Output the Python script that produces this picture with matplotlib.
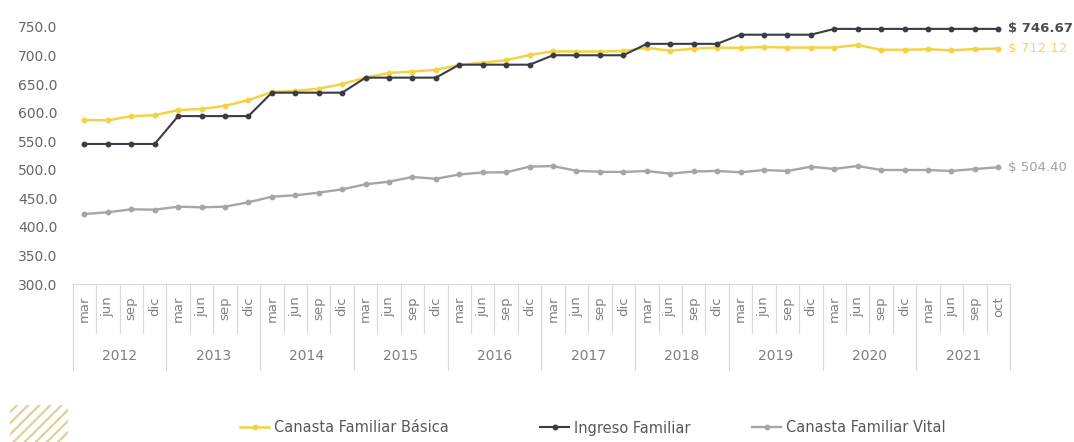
import numpy as np
import matplotlib
matplotlib.use('Agg')
import matplotlib.pyplot as plt
import matplotlib.transforms as mtransforms
from matplotlib.lines import Line2D
from matplotlib.patches import Rectangle

plt.rcParams['font.family'] = ['DejaVu Sans']
plt.rcParams['hatch.linewidth'] = 1.6

years = ['2012', '2013', '2014', '2015', '2016', '2017', '2018', '2019', '2020', '2021']
months = ['mar', 'jun', 'sep', 'dic'] * 9 + ['mar', 'jun', 'sep', 'oct']

canasta_basica = [587.0, 586.5, 594.0, 595.5, 604.5, 606.5, 612.0, 622.0,
                  636.0, 638.0, 642.0, 650.0, 661.5, 669.5, 672.0, 675.0,
                  683.5, 687.5, 692.0, 701.0, 707.5, 707.0, 707.0, 708.0,
                  713.5, 708.5, 712.0, 714.0, 713.5, 715.0, 714.0, 714.0,
                  714.0, 718.5, 710.0, 710.0, 711.0, 709.0, 711.5, 712.12]
ingreso_familiar = [545.2, 545.2, 545.2, 545.2, 594.0, 594.0, 594.0, 594.0,
                    635.0, 635.0, 635.0, 635.0, 661.3, 661.3, 661.3, 661.3,
                    684.0, 684.0, 684.0, 684.0, 700.5, 700.5, 700.5, 700.5,
                    720.5, 720.5, 720.5, 720.5, 736.5, 736.5, 736.5, 736.5,
                    746.67, 746.67, 746.67, 746.67, 746.67, 746.67, 746.67, 746.67]
canasta_vital = [422.6, 425.6, 430.8, 430.1, 435.4, 434.3, 435.4, 443.1,
                 452.9, 455.3, 459.9, 465.8, 474.6, 479.2, 487.4, 484.2,
                 491.8, 495.3, 495.6, 505.5, 506.5, 498.2, 496.5, 496.1,
                 497.9, 493.2, 497.0, 497.9, 495.6, 499.6, 497.9, 505.4,
                 501.4, 506.7, 499.6, 499.6, 499.6, 497.9, 501.4, 504.40]

W, H = 1074, 442
fig = plt.figure(figsize=(W / 100, H / 100), dpi=100)
ax = fig.add_axes([72.7 / W, (H - 284) / H, 937.3 / W, 257 / H])

x = np.arange(len(months))
series = [
    ('Canasta Familiar Básica', canasta_basica, '#f4d245', 1.8),
    ('Ingreso Familiar', ingreso_familiar, '#3b3b45', 1.5),
    ('Canasta Familiar Vital', canasta_vital, '#a6a6a6', 1.7),
]
for name, vals, col, lw in series:
    ax.plot(x, vals, color=col, lw=lw, marker='o', ms=3.2, clip_on=False, zorder=3)

ax.set_xlim(-0.5, len(months) - 0.5)
ax.set_ylim(300, 750)
ax.set_yticks(np.arange(300, 751, 50))
ax.set_yticklabels([f'{v:.1f}' for v in np.arange(300, 751, 50)])
ax.tick_params(axis='y', length=0, pad=11, labelsize=10, labelcolor='#666666')
ax.set_xticks([])
for s in ['top', 'right', 'left']:
    ax.spines[s].set_visible(False)
ax.spines['bottom'].set_color('#d9d9d9')

# two-level category axis: months above, years below
def ay(py):
    return (284 - py) / 257

trans = mtransforms.blended_transform_factory(ax.transData, ax.transAxes)
for k in range(len(months) + 1):
    bottom = ay(370) if k % 4 == 0 else ay(333)
    ax.plot([k - 0.5, k - 0.5], [0, bottom], transform=trans, color='#d9d9d9',
            lw=0.8, clip_on=False)
for i, m in enumerate(months):
    ax.text(i, ay(296), m, transform=trans, rotation=90, ha='center', va='top',
            fontsize=9.5, color='#7f7f7f')
for j, yr in enumerate(years):
    ax.text(4 * j + 1.5, ay(356), yr, transform=trans, ha='center', va='center',
            fontsize=10, color='#7f7f7f')

# closing values at the right end of each line
end_styles = [(canasta_basica, '#f2d468', 'normal'),
              (ingreso_familiar, '#4d4d4d', 'bold'),
              (canasta_vital, '#a0a0a0', 'normal')]
for vals, col, wt in end_styles:
    ax.annotate(f'$ {vals[-1]:.2f}', xy=(x[-1], vals[-1]), xytext=(7, 0),
                textcoords='offset points', va='center', ha='left',
                fontsize=9.5, color=col, fontweight=wt, annotation_clip=False)

# legend entries placed one by one along the bottom
legend_x = [240, 540, 752]
for (name, vals, col, lw), lx in zip(series, legend_x):
    h = Line2D([], [], color=col, lw=lw, marker='o', ms=3.2)
    fig.legend(handles=[h], labels=[name], loc='center left',
               bbox_to_anchor=(lx / W, (H - 428) / H), frameon=False,
               handlelength=2.0, handletextpad=0.3, borderpad=0, borderaxespad=0,
               fontsize=10.5, labelcolor='#595959')

# striped corner decoration
fig.add_artist(Rectangle((10 / W, 0), 58 / W, 37 / H, transform=fig.transFigure,
                         fill=False, hatch='///', edgecolor='#ddd09a', lw=0))

fig.savefig('out.png', dpi=100)
